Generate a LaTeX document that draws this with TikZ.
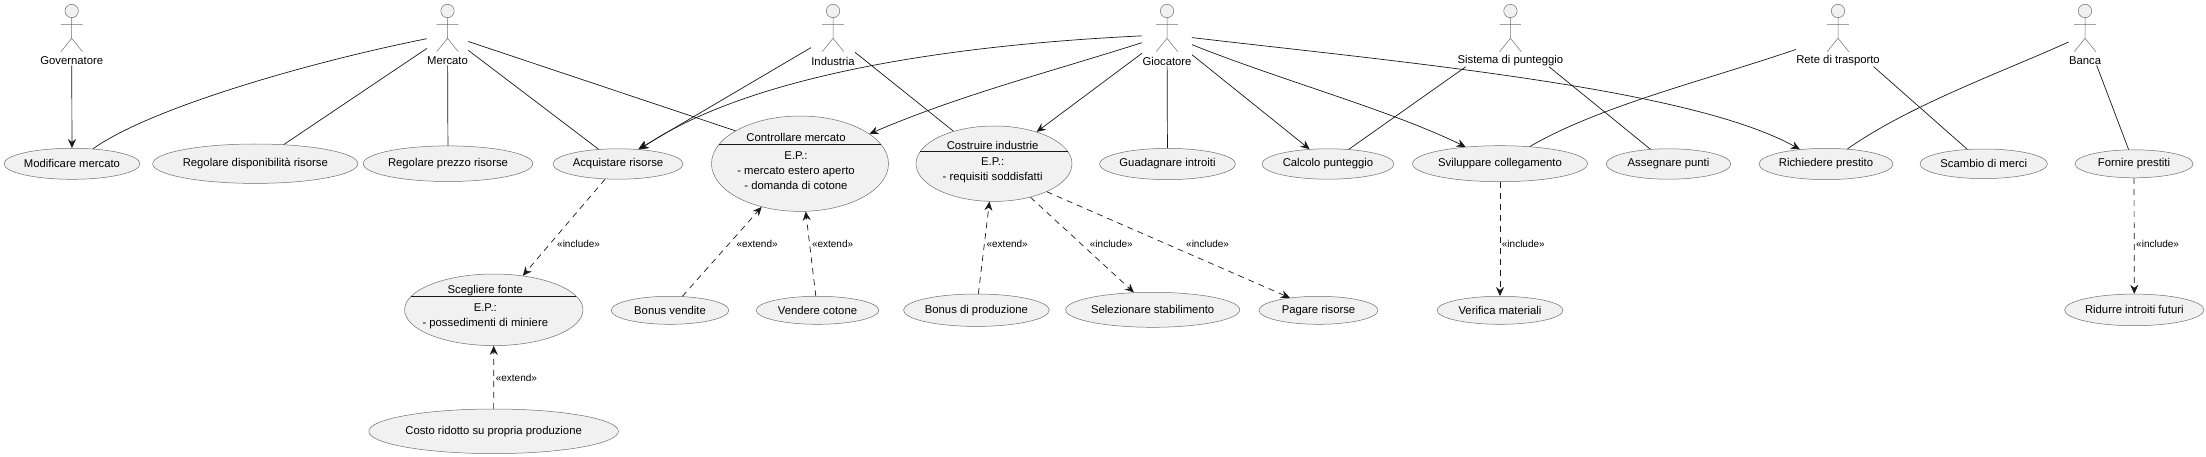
\documentclass[tikz,border=0pt]{standalone}
\usepackage{fontspec}
\setmainfont{Liberation Sans}
\usetikzlibrary{arrows.meta,shapes.geometric,fit,calc}
\definecolor{ink}{HTML}{181818}
\definecolor{edge}{HTML}{6E6E6E}
\definecolor{pale}{HTML}{F1F1F1}
\tikzset{
  uc/.style={ellipse,draw=edge,fill=pale,line width=.5pt,inner sep=0pt,font=\fontsize{11.3}{14.7}\selectfont},
  txt/.style={inner sep=0pt,text=black,font=\fontsize{11.3}{14.7}\selectfont,align=center},
  lab/.style={inner sep=0pt,text=black,font=\fontsize{10}{12}\selectfont,anchor=west},
  assoc/.style={draw=ink,line width=.7pt},
  arr/.style={assoc,-{Stealth[length=9pt,width=8pt,inset=3pt]}},
  dep/.style={arr,dash pattern=on 6pt off 5pt},
  fig/.style={draw=edge,line width=.5pt},
  cut/.style={draw=ink,line width=.8pt},
}
\newcommand{\actorfig}[3]{%
  \node[txt] (#1l) at (#2,61) {#3};
  \draw[fig,fill=pale] (#2,11) circle [radius=6.7];
  \draw[fig] (#2,17.7) -- (#2,38.3) (#2-10.8,24.3) -- (#2+10.8,24.3)
    (#2-10.8,51.7) -- (#2,38.3) -- (#2+10.8,51.7);
  \coordinate (#1t) at (#2,4);
  \node[inner sep=0pt,fit=(#1l)(#1t)] (#1) {};
}
\newcommand{\usecase}[7]{\node[uc,minimum width=#4*2pt,minimum height=#5*2pt] (#1) at (#2,#3) {#6#7};}
\begin{document}
\begin{tikzpicture}[x=1pt,y=-1pt]
\useasboundingbox (0,0) rectangle (2206,457);
\actorfig{gov}{71.7}{Governatore}
\actorfig{mer}{447.5}{Mercato}
\actorfig{ind}{833}{Industria}
\actorfig{gio}{1167}{Giocatore}
\actorfig{sis}{1510.4}{Sistema di punteggio}
\actorfig{ret}{1838}{Rete di trasporto}
\actorfig{ban}{2085}{Banca}

\usecase{modif}{72}{163.8}{68}{15.5}{Modificare mercato}{}
\usecase{disp}{255.3}{163.7}{87.8}{19.7}{Regolare disponibilità risorse}{}
\usecase{prez}{448}{163.7}{77}{17.8}{Regolare prezzo risorse}{}
\usecase{acq}{618}{164}{65}{15.2}{Acquistare risorse}{}
\usecase{ctrl}{800}{163.7}{88.5}{47.7}{}{}
\usecase{cos}{994}{163.7}{78}{37.7}{}{}
\usecase{gua}{1167.5}{164}{67.5}{15.6}{Guadagnare introiti}{}
\usecase{cal}{1328}{164}{66}{15.2}{Calcolo punteggio}{}
\usecase{svi}{1500}{163.7}{78}{18}{Sviluppare collegamento}{}
\usecase{ass}{1668.5}{164}{62.3}{15.2}{Assegnare punti}{}
\usecase{ric}{1826}{164}{67}{15.6}{Richiedere prestito}{}
\usecase{sca}{1983.7}{163.8}{63.7}{14.8}{Scambio di merci}{}
\usecase{forn}{2134}{163.8}{59}{14}{Fornire prestiti}{}
\usecase{sce}{493.8}{309.8}{89.2}{35.8}{}{}
\usecase{cst}{493.6}{431.3}{102.6}{22.3}{Costo ridotto su propria produzione}{}
\usecase{bve}{670}{310.3}{58.8}{14}{Bonus vendite}{}
\usecase{vcot}{817.5}{310.3}{61.3}{14}{Vendere cotone}{}
\usecase{bpr}{976.4}{310.2}{70.3}{16.2}{Bonus di produzione}{}
\usecase{sel}{1152.7}{309.8}{78}{17.5}{Selezionare stabilimento}{}
\usecase{pag}{1318.5}{310.3}{59.5}{14}{Pagare risorse}{}
\usecase{ver}{1500}{310.3}{63}{14}{Verifica materiali}{}
\usecase{rid}{2134.3}{309.9}{68.3}{15.8}{Ridurre introiti futuri}{}

% compartment texts
\node[txt] (ctrlt) at (796,137.7) {Controllare mercato};
\coordinate (ctrll) at (719.2,144.3);
\coordinate (ctrlr) at (880.8,144.3);
\draw[cut] (ctrll) -- (ctrlr);
\node[txt] (ctrlb) at (796,171) {E.P.:\\[0.3pt]- mercato estero aperto\\[0.3pt]- domanda di cotone};
\node[txt] (cost) at (992.6,145.3) {Costruire industrie};
\coordinate (cosl) at (920,151.7);
\coordinate (cosr) at (1068,151.7);
\draw[cut] (cosl) -- (cosr);
\node[txt] (cosb) at (992.6,170.7) {E.P.:\\[0.3pt]- requisiti soddisfatti};
\node[txt] (scet) at (485.3,290.3) {Scegliere fonte};
\coordinate (scel) at (411.2,296.3);
\coordinate (scer) at (576.4,296.3);
\draw[cut] (scel) -- (scer);
\node[txt] (sceb) at (485.3,316) {E.P.:\\[0.3pt]- possedimenti di miniere};

% solid connectors
\draw[arr] (gov) -- (modif);
\draw[assoc] (mer) .. controls (310,62) and (150,108) .. (modif);
\draw[assoc] (mer) -- (disp);
\draw[assoc] (mer) -- (prez);
\draw[assoc] (mer) -- (acq);
\draw[assoc] (mer) -- (ctrl.153);
\draw[arr] (ind) -- (acq.36);
\draw[assoc] (ind) -- (cos);
\draw[arr] (gio) .. controls (950,45) and (750,75) .. (acq);
\draw[arr] (gio) .. controls (1050,72) and (960,95) .. (ctrl);
\draw[arr] (gio) -- (cos);
\draw[assoc] (gio) -- (gua);
\draw[arr] (gio) -- (cal);
\draw[arr] (gio) .. controls (1280,80) and (1390,110) .. (svi);
\draw[arr] (gio) .. controls (1400,62) and (1690,88) .. (ric);
\draw[assoc] (sis) -- (cal);
\draw[assoc] (sis) -- (ass);
\draw[assoc] (ret) .. controls (1700,82) and (1600,106) .. (svi);
\draw[assoc] (ret) -- (sca);
\draw[assoc] (ban) .. controls (2000,73) and (1910,105) .. (ric);
\draw[assoc] (ban) -- (forn);

% dependencies
\draw[dep] (acq) -- (sce);
\draw[dep] (cst) -- (sce);
\draw[dep] (bve) -- (ctrl);
\draw[dep] (vcot) -- (ctrl);
\draw[dep] (bpr) -- (cos);
\draw[dep] (cos) -- (sel);
\draw[dep] (cos.-28.5) -- (pag);
\draw[dep] (svi) -- (ver);
\draw[dep] (forn) -- (rid);

\node[lab] (l1) at (557,244.3) {«include»};
\node[lab] (l2) at (736.3,244.3) {«extend»};
\node[lab] (l3) at (811.8,244.3) {«extend»};
\node[lab] (l4) at (986.4,244.3) {«extend»};
\node[lab] (l5) at (1089.7,244.3) {«include»};
\node[lab] (l6) at (1186,244.3) {«include»};
\node[lab] (l7) at (1501.7,244.3) {«include»};
\node[lab] (l8) at (2136,244.3) {«include»};
\node[lab] (l9) at (495.6,378.3) {«extend»};
\end{tikzpicture}
\end{document}
